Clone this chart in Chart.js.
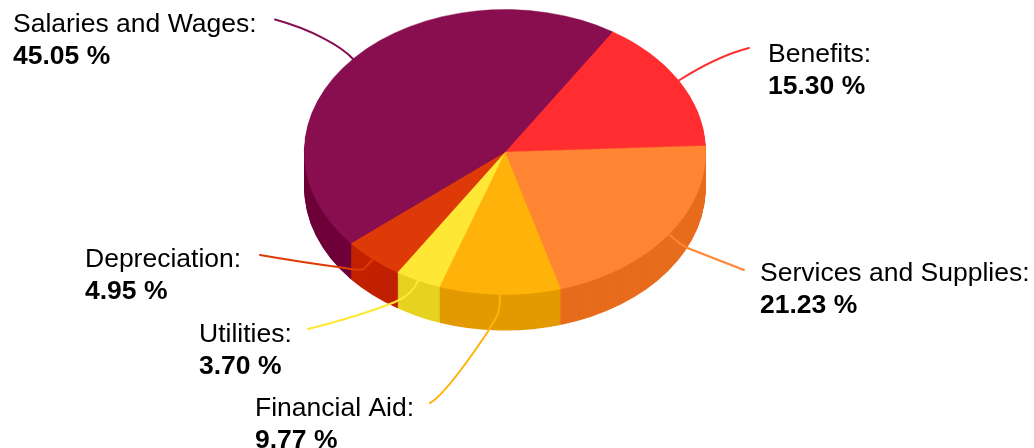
<!DOCTYPE html>
<html>
<head>
<meta charset="utf-8">
<title>Expenses</title>
<script src="https://cdn.jsdelivr.net/npm/chart.js@4/dist/chart.umd.min.js"></script>
<style>
  html, body { margin: 0; padding: 0; background: #fff; overflow: hidden; }
  canvas { display: block; }
</style>
</head>
<body>
<canvas id="pie" width="1034" height="448"></canvas>
<script>
/* Flat Chart.js pie, squashed and extruded by a small plugin */
const categories = ['Benefits', 'Services and Supplies', 'Financial Aid', 'Utilities', 'Depreciation', 'Salaries and Wages'];
const shares = [15.30, 21.23, 9.77, 3.70, 4.95, 45.05];
const topColors = ['#ff2d30', '#ff8533', '#ffb30a', '#ffe835', '#de3a08', '#880e4f'];
const sideColors = ['#e0141a', '#e76c1c', '#e39a00', '#e6d220', '#c22100', '#6d0038'];

// where the label text goes: x, first baseline
const labelSpots = [[768, 62], [760, 281], [255, 416], [199, 342], [85, 267], [13, 32]];

// leader lines, one path per category
const leaders = [
  'M749 48 C725 54 700 67 678 81',
  'M744 270 L690 249 Q680 245 670 235',
  'M430 403 Q445 395 487 333 L497 316 Q500 310 500 295',
  'M308 329 Q360 316 395 302 Q412 295 418 281',
  'M260 255 Q300 262 345 268 Q358 271 364 269 L373 259',
  'M275 19.5 C310 29 342 46 354 60'
];

const centerY = 152;   // on the page
const squash = 0.71;
const depth = 36;

function flatten(chart, ctx, dy) {
  const mid = (chart.chartArea.top + chart.chartArea.bottom) / 2;
  ctx.translate(0, centerY + dy);
  ctx.scale(1, squash);
  ctx.translate(0, -mid);
}

const pie3d = {
  id: 'pie3d',
  beforeDatasetsDraw(chart) {
    const ctx = chart.ctx;
    const arcs = chart.getDatasetMeta(0).data;

    // side wall: the same arcs, darker, stacked from the bottom up
    for (let dy = depth; dy > 0; dy -= 1) {
      ctx.save();
      flatten(chart, ctx, dy);
      arcs.forEach((arc, i) => {
        const keep = arc.options;
        arc.options = { ...keep, backgroundColor: sideColors[i], borderColor: sideColors[i], borderWidth: 0 };
        arc.draw(ctx);
        arc.options = keep;
      });
      ctx.restore();
    }

    // leaders sit over the wall but under the top face
    ctx.save();
    ctx.lineWidth = 2;
    ctx.lineCap = 'round';
    leaders.forEach((d, i) => {
      ctx.strokeStyle = topColors[i];
      ctx.stroke(new Path2D(d));
    });
    ctx.restore();

    ctx.save();
    flatten(chart, ctx, 0);
  },
  afterDatasetsDraw(chart) {
    chart.ctx.restore();
  },
  afterDraw(chart) {
    const ctx = chart.ctx;
    ctx.save();
    ctx.fillStyle = '#000';
    ctx.textBaseline = 'alphabetic';
    categories.forEach((name, i) => {
      const [x, y] = labelSpots[i];
      ctx.font = '26.5px "Liberation Sans", Arial, sans-serif';
      ctx.fillText(name + ':', x, y);
      ctx.font = 'bold 26.5px "Liberation Sans", Arial, sans-serif';
      ctx.fillText(shares[i].toFixed(2) + ' %', x, y + 32);
    });
    ctx.restore();
  }
};

new Chart(document.getElementById('pie'), {
  type: 'pie',
  data: {
    labels: categories,
    datasets: [{
      data: shares,
      backgroundColor: topColors,
      borderColor: topColors,
      borderWidth: 0.5,
      clip: false
    }]
  },
  options: {
    responsive: false,
    devicePixelRatio: 1,
    animation: false,
    rotation: 32.4,
    layout: { padding: { left: 304, right: 328, top: 23, bottom: 23 } },
    plugins: { legend: { display: false }, tooltip: { enabled: false } }
  },
  plugins: [pie3d]
});
</script>
</body>
</html>
